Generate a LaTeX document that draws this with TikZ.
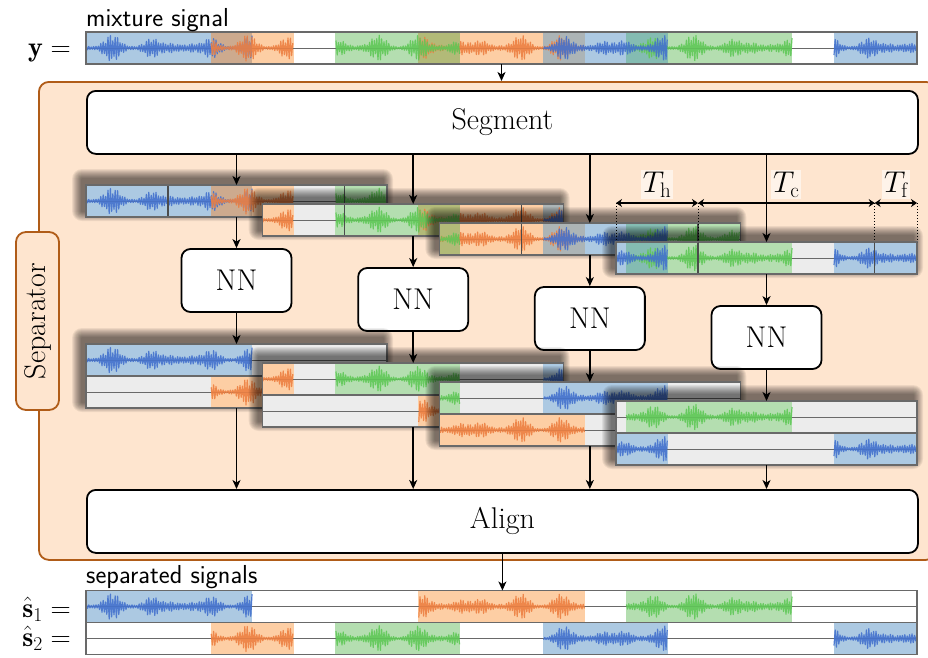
\RequirePackage{fix-cm}
\documentclass[tikz,border=0pt]{standalone}
\usepackage{fontspec}
\usetikzlibrary{arrows.meta}

\definecolor{wblue}{RGB}{68,114,206}
\definecolor{fblue}{RGB}{172,201,226}
\definecolor{worange}{RGB}{237,128,66}
\definecolor{forange}{RGB}{253,206,164}
\definecolor{wgreen}{RGB}{96,200,88}
\definecolor{fgreen}{RGB}{180,222,176}
\definecolor{fbo}{RGB}{205,170,142}
\definecolor{fgo}{RGB}{178,186,120}
\definecolor{fob}{RGB}{172,180,182}
\definecolor{fgb}{RGB}{132,188,178}
\definecolor{peach}{RGB}{254,229,207}
\definecolor{sepline}{RGB}{176,92,24}
\definecolor{trackbg}{RGB}{236,236,236}
\definecolor{framegray}{RGB}{105,105,105}

% current horizontal window of a track
\newcommand\setwin[2]{\edef\winA{#1}\edef\winB{#2}}

% one burst of signal: start, end, centre line, colour, phase
\newcommand\wave[5]{%
  \pgfmathsetmacro\wa{max(#1,\winA)}%
  \pgfmathsetmacro\wb{min(#2,\winB)}%
  \ifdim\wa pt<\wb pt\relax
    \pgfmathsetmacro\wa{1.2*ceil(\wa/1.2)}%
    \pgfmathsetmacro\wb{1.2*floor(\wb/1.2)}%
    \pgfmathtruncatemacro\wn{round((\wb-\wa)/1.2)+1}%
    \ifnum\wn>1\relax
      \draw[wave,#4] plot[domain=\wa:\wb,samples=\wn]
        (\x,{(#3)+13.5*(0.22+0.78*sin(3.9*\x+#5)^2)*(0.7+0.3*sin(10.3*\x+2*#5))*(0.45+0.55*abs(sin(mod(\x,90)*173.3)))*(2*mod(round(\x/1.2),2)-1)});
    \fi
  \fi}

% source 1
\newcommand\fillsone[2]{%
  \fill[fblue] (86,#1) rectangle (252.1,#2);
  \fill[forange] (418.4,#1) rectangle (584.6,#2);
  \fill[fgreen] (626.1,#1) rectangle (792.3,#2);}
\newcommand\wavesone[1]{%
  \wave{86}{252.1}{#1}{wblue}{10}%
  \wave{418.4}{584.6}{#1}{worange}{50}%
  \wave{626.1}{792.3}{#1}{wgreen}{80}}
% source 2
\newcommand\fillstwo[2]{%
  \fill[forange] (210.6,#1) rectangle (293.7,#2);
  \fill[fgreen] (335.3,#1) rectangle (459.9,#2);
  \fill[fblue] (543,#1) rectangle (667.7,#2);
  \fill[fblue] (833.9,#1) rectangle (917,#2);}
\newcommand\wavestwo[1]{%
  \wave{210.6}{293.7}{#1}{worange}{25}%
  \wave{335.3}{459.9}{#1}{wgreen}{65}%
  \wave{543}{667.7}{#1}{wblue}{35}%
  \wave{833.9}{917}{#1}{wblue}{95}}
% mixture of both
\newcommand\fillsmix[2]{%
  \fill[fblue] (86,#1) rectangle (210.6,#2);
  \fill[fbo] (210.6,#1) rectangle (252.1,#2);
  \fill[forange] (252.1,#1) rectangle (293.7,#2);
  \fill[fgreen] (335.3,#1) rectangle (418.4,#2);
  \fill[fgo] (418.4,#1) rectangle (459.9,#2);
  \fill[forange] (459.9,#1) rectangle (543,#2);
  \fill[fob] (543,#1) rectangle (584.6,#2);
  \fill[fblue] (584.6,#1) rectangle (626.1,#2);
  \fill[fgb] (626.1,#1) rectangle (667.7,#2);
  \fill[fgreen] (667.7,#1) rectangle (792.3,#2);
  \fill[fblue] (833.9,#1) rectangle (917,#2);}
\newcommand\wavesmix[1]{\wavesone{#1}\wavestwo{#1}}

% a track: x0, x1, top, background, content (one/two/mix)
\newcommand\track[5]{%
  \setwin{#1}{#2}%
  \begin{scope}
    \clip (#1,#3) rectangle (#2,#3+32);
    \fill[#4] (#1,#3) rectangle (#2,#3+32);
    \csname fills#5\endcsname{#3}{#3+32}%
    \draw[midline] (#1,#3+16) -- (#2,#3+16);
    \csname waves#5\endcsname{#3+16}%
  \end{scope}}

% soft shadow cast up and to the left: x, y, width, height
\newcommand\softshadow[4]{%
  \foreach \r in {1,...,10}{
    \fill[black,opacity=0.065,rounded corners=\r pt]
      (#1-4-\r,#2-6-\r) rectangle (#1-4+#3+\r,#2-6+#4+\r);
  }}

\begin{document}
\begin{tikzpicture}[x=1pt,y=-1pt,
  every node/.style={font=\fontsize{30}{36}\selectfont},
  box/.style={draw=black,line width=1.8pt,fill=white,rounded corners=9pt,inner sep=0pt},
  sepbox/.style={draw=sepline,line width=1.8pt,fill=peach,rounded corners=10pt,inner sep=0pt},
  ghost/.style={inner sep=0pt,outer sep=0pt},
  arr/.style={line width=1.4pt,-{Stealth[length=9pt,width=8pt,inset=2.5pt]}},
  dimarr/.style={line width=1.2pt,{Stealth[length=6pt,width=8pt,inset=2pt]}-{Stealth[length=6pt,width=8pt,inset=2pt]}},
  wave/.style={line width=1.2pt,line join=round,opacity=0.9},
  midline/.style={draw=framegray,line width=0.9pt},
  stripframe/.style={draw=framegray,line width=1.2pt},
  divider/.style={draw=black!70,line width=1.2pt},
  tlabel/.style={fill=white,fill opacity=0.55,text opacity=1,inner sep=2pt}]

\path[use as bounding box] (0,0) rectangle (928,657);
\clip (0,0) rectangle (928,657);

% separator frame
\node[sepbox,minimum width=897pt,minimum height=478pt,anchor=north west] (sep) at (38,81) {};
\node[sepbox,rotate=90,minimum width=178pt,minimum height=43pt] (seplabel) at (37.5,321) {Separator};

% segmentation and alignment blocks
\node[box,minimum width=831pt,minimum height=63pt,anchor=north west] (seg) at (86,90) {Segment};
\node[box,minimum width=831pt,minimum height=63pt,anchor=north west] (align) at (86,489) {Align};

% mixture
\track{86}{917}{32}{white}{mix}
\draw[stripframe] (86,32) rectangle (917,64);
\node[ghost,minimum width=831pt,minimum height=32pt,anchor=north west] (mix) at (86,32) {};
\node[font=\fontsize{26}{30}\sffamily,anchor=base west,inner sep=0pt] (mixlabel) at (86,26) {mixture signal};
\node[font=\fontsize{28}{32}\selectfont,anchor=base east,inner sep=0pt] (ylabel) at (71,56) {$\mathbf{y}=$};

% overlapping input segments
\foreach \k in {0,...,3}{
  \pgfmathsetmacro\xo{86+176.67*\k}
  \pgfmathsetmacro\yo{185+19*\k}
  \softshadow{\xo}{\yo}{301}{32}
  \track{\xo}{\xo+301}{\yo}{trackbg}{mix}
  \draw[divider] (\xo+82,\yo) -- ++(0,32) (\xo+258.67,\yo) -- ++(0,32);
  \draw[stripframe] (\xo,\yo) rectangle ++(301,32);
  \node[ghost,minimum width=301pt,minimum height=32pt,anchor=north west] (in\k) at (\xo,\yo) {};
}

% segment lengths
\coordinate (tA) at (616,203);
\coordinate (tB) at (698,203);
\coordinate (tC) at (874.67,203);
\coordinate (tD) at (917,203);
\foreach \c in {tA,tB,tC,tD}
  \draw[dotted,line width=1pt] (\c) -- (\c |- in3.north);
\draw[dimarr] (tA) -- (tB) node[midway,above=3pt,tlabel] (th) {$T_{\mathrm{h}}$};
\draw[dimarr] (tB) -- (tC) node[midway,above=3pt,tlabel] (tc) {$T_{\mathrm{c}}$};
\draw[dimarr] (tC) -- (tD) node[midway,above=3pt,tlabel] (tf) {$T_{\mathrm{f}}$};

% networks
\foreach \k in {0,...,3}
  \node[box,minimum width=110pt,minimum height=63pt] (nn\k) at (236.5+176.67*\k,280.5+19*\k) {NN};

% separated segments
\foreach \k/\ta/\tb in {0/one/two,1/two/one,2/two/one,3/one/two}{
  \pgfmathsetmacro\xo{86+176.67*\k}
  \pgfmathsetmacro\yo{344+19*\k}
  \softshadow{\xo}{\yo}{301}{64}
  \track{\xo}{\xo+301}{\yo}{trackbg}{\ta}
  \track{\xo}{\xo+301}{\yo+32}{trackbg}{\tb}
  \draw[stripframe] (\xo,\yo) rectangle ++(301,64) (\xo,\yo+32) -- ++(301,0);
  \node[ghost,minimum width=301pt,minimum height=64pt,anchor=north west] (out\k) at (\xo,\yo) {};
}

% separated signals
\track{86}{917}{590.5}{white}{one}
\track{86}{917}{622.5}{white}{two}
\draw[stripframe] (86,590.5) rectangle (917,654.5) (86,622.5) -- (917,622.5);
\node[ghost,minimum width=831pt,minimum height=32pt,anchor=north west] (s1bar) at (86,590.5) {};
\node[font=\fontsize{26}{30}\sffamily,anchor=base west,inner sep=0pt] (outlabel) at (86,583) {separated signals};
\node[font=\fontsize{28}{32}\selectfont,anchor=base east,inner sep=0pt] (s1label) at (71,617) {$\hat{\mathbf{s}}_1=$};
\node[font=\fontsize{28}{32}\selectfont,anchor=base east,inner sep=0pt] (s2label) at (71,646) {$\hat{\mathbf{s}}_2=$};

% connectors
\draw[arr] (mix.south) -- (mix.south |- sep.north);
\foreach \k in {0,...,3}{
  \draw[arr] (seg.south -| in\k.north) -- (in\k.north);
  \draw[arr] (in\k.south) -- (nn\k.north);
  \draw[arr] (nn\k.south) -- (out\k.north);
  \draw[arr] (out\k.south) -- (out\k.south |- align.north);
}
\draw[arr] (align.south) -- (align.south |- s1bar.north);
\end{tikzpicture}
\end{document}
